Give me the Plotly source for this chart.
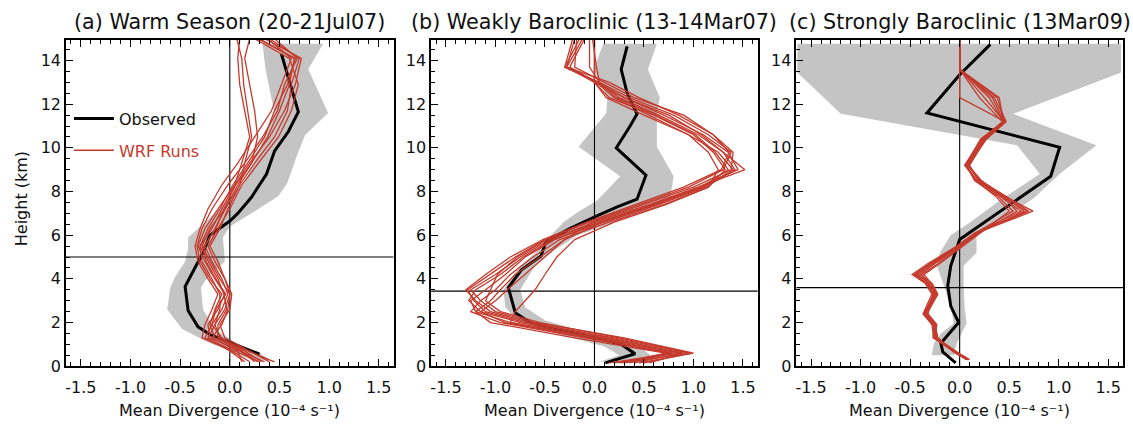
import plotly.graph_objects as go

# ---------------- data ----------------
x_tick_vals = [-1.5, -1.0, -0.5, 0.0, 0.5, 1.0, 1.5]
x_tick_text = ["-1.5", "-1.0", "-0.5", "0.0", "0.5", "1.0", "1.5"]
y_tick_vals = [0, 2, 4, 6, 8, 10, 12, 14]

panel_titles = ["(a) Warm Season (20-21Jul07)",
                "(b) Weakly Baroclinic (13-14Mar07)",
                "(c) Strongly Baroclinic (13Mar09)"]
x_title = "Mean Divergence (10\u207b\u2074 s\u207b\u00b9)"
ref_heights = [5.0, 3.44, 3.6]

# ---- panel (a) ----
obs_a_h = [14.3, 13.0, 11.65, 10.75, 9.85, 8.8, 7.75, 7.0, 6.65, 6.0, 5.2, 4.6, 3.65, 2.55, 1.8, 1.45, 1.05, 0.55]
obs_a_x = [0.52, 0.60, 0.69, 0.59, 0.45, 0.37, 0.22, 0.08, 0.0, -0.20, -0.27, -0.34, -0.45, -0.42, -0.32, -0.20, 0.02, 0.30]
band_a_h = [14.77, 13.6, 11.6, 10.6, 9.7, 8.4, 7.8, 7.0, 6.4, 5.9, 5.4, 4.8, 4.1, 3.6, 2.6, 1.7, 1.1, 0.6, 0.3]
band_a_max = [0.94, 0.79, 0.99, 0.76, 0.68, 0.58, 0.49, 0.22, 0.0, -0.07, -0.06, -0.05, -0.22, -0.29, -0.27, -0.15, 0.05, 0.30, 0.40]
band_a_min = [0.33, 0.36, 0.45, 0.35, 0.28, 0.15, 0.02, -0.15, -0.30, -0.42, -0.42, -0.45, -0.55, -0.60, -0.63, -0.48, -0.22, 0.05, 0.22]
runs_a_h = [0.2, 0.7, 1.3, 1.9, 2.6, 3.3, 4.0, 4.8, 5.5, 6.3, 7.2, 8.3, 9.3, 10.5, 11.7, 12.9, 14.1, 15.0]
runs_a = [
    [0.45, 0.18, -0.10, -0.15, -0.05, 0.00, -0.10, -0.20, -0.28, -0.20, -0.05, 0.10, 0.25, 0.45, 0.58, 0.62, 0.70, 0.40],
    [0.35, 0.10, -0.20, -0.22, -0.12, -0.05, -0.15, -0.25, -0.32, -0.25, -0.12, 0.05, 0.20, 0.40, 0.55, 0.66, 0.72, 0.35],
    [0.30, 0.05, -0.25, -0.18, -0.08, -0.02, -0.08, -0.18, -0.25, -0.15, -0.05, 0.08, 0.22, 0.38, 0.50, 0.60, 0.65, 0.30],
    [0.25, 0.12, -0.15, -0.20, -0.15, -0.08, -0.20, -0.30, -0.33, -0.28, -0.18, -0.02, 0.15, 0.33, 0.48, 0.55, 0.68, 0.45],
    [0.40, 0.20, -0.05, -0.10, 0.00, 0.02, -0.05, -0.15, -0.22, -0.12, 0.00, 0.12, 0.29, 0.49, 0.62, 0.69, 0.60, 0.25],
    [0.20, 0.02, -0.28, -0.25, -0.18, -0.12, -0.22, -0.32, -0.35, -0.30, -0.22, -0.08, 0.08, 0.25, 0.42, 0.52, 0.62, 0.38],
    [0.32, 0.15, -0.12, -0.12, -0.03, -0.06, -0.12, -0.22, -0.30, -0.22, -0.10, 0.03, 0.18, 0.35, 0.45, 0.58, 0.66, 0.28],
    [0.15, 0.00, -0.22, -0.15, -0.10, -0.10, -0.18, -0.28, -0.30, -0.18, -0.08, 0.05, 0.12, 0.20, 0.15, 0.10, 0.08, 0.10],
    [0.12, 0.08, -0.18, -0.08, -0.02, 0.00, -0.05, -0.12, -0.20, -0.10, -0.02, 0.10, 0.15, 0.22, 0.18, 0.14, 0.12, 0.07],
    [0.28, 0.10, -0.08, -0.18, -0.14, -0.04, -0.14, -0.24, -0.26, -0.14, -0.06, 0.06, 0.22, 0.28, 0.25, 0.20, 0.15, 0.20],
]

# ---- panel (b) ----
obs_b_h = [14.65, 13.6, 12.5, 11.55, 11.0, 10.0, 8.75, 7.65, 7.3, 6.9, 6.3, 5.7, 5.05, 4.4, 3.6, 2.45, 1.97, 1.5, 1.03, 0.57, 0.15]
obs_b_x = [0.33, 0.27, 0.33, 0.43, 0.36, 0.22, 0.52, 0.43, 0.23, 0.03, -0.25, -0.49, -0.54, -0.74, -0.87, -0.80, -0.64, -0.20, 0.26, 0.41, 0.11]
band_b_h = [14.77, 13.6, 12.3, 11.6, 10.05, 8.7, 7.6, 7.05, 6.6, 6.0, 5.3, 4.6, 3.5, 2.7, 2.1, 1.45, 0.9, 0.5, 0.2]
band_b_max = [0.63, 0.54, 0.66, 0.63, 0.63, 0.80, 0.76, 0.45, 0.20, -0.17, -0.41, -0.60, -0.75, -0.70, -0.50, -0.02, 0.45, 0.57, 0.50]
band_b_min = [0.09, -0.01, 0.13, 0.12, -0.16, 0.26, 0.03, -0.17, -0.31, -0.44, -0.57, -0.75, -0.92, -0.90, -0.78, -0.35, 0.10, 0.25, 0.05]
runs_b_h = [0.15, 0.6, 1.3, 2.0, 2.5, 3.0, 3.5, 4.2, 5.0, 5.8, 6.6, 7.4, 8.2, 9.0, 9.8, 10.6, 11.5, 12.3, 13.0, 13.7, 15.0]
runs_b = [
    [0.30, 0.95, 0.20, -0.70, -1.10, -1.22, -1.28, -1.05, -0.80, -0.50, -0.05, 0.45, 0.95, 1.30, 1.38, 1.15, 0.80, 0.35, 0.05, -0.30, -0.15],
    [0.45, 1.00, 0.30, -0.60, -1.00, -1.15, -1.25, -1.00, -0.75, -0.45, 0.00, 0.55, 1.05, 1.45, 1.35, 1.10, 0.70, 0.30, 0.00, -0.28, -0.20],
    [0.20, 0.85, 0.05, -0.85, -1.20, -1.25, -1.10, -0.90, -0.70, -0.40, 0.05, 0.60, 1.10, 1.40, 1.25, 0.95, 0.55, 0.20, 0.02, -0.25, -0.10],
    [0.55, 0.90, 0.10, -0.75, -1.15, -1.27, -1.20, -0.95, -0.72, -0.42, 0.10, 0.65, 1.12, 1.42, 1.30, 1.05, 0.65, 0.25, 0.05, -0.05, -0.05],
    [0.35, 0.78, -0.10, -0.95, -1.25, -1.15, -1.00, -0.85, -0.62, -0.35, 0.15, 0.70, 1.15, 1.32, 1.20, 1.00, 0.60, 0.15, 0.00, 0.00, 0.00],
    [0.25, 0.72, -0.20, -1.05, -1.20, -1.05, -0.95, -0.80, -0.55, -0.30, -0.02, 0.50, 1.00, 1.38, 1.40, 1.20, 0.90, 0.40, 0.10, -0.20, -0.18],
    [0.50, 0.98, 0.25, -0.55, -0.95, -1.10, -1.05, -0.98, -0.78, -0.48, 0.05, 0.58, 1.05, 1.52, 1.30, 1.08, 0.75, 0.30, 0.03, -0.30, -0.22],
    [0.15, 0.80, 0.00, -0.85, -0.80, -0.70, -0.60, -0.50, -0.38, -0.20, 0.20, 0.72, 1.15, 1.25, 1.15, 0.95, 0.50, 0.12, 0.00, 0.00, 0.00],
    [0.40, 0.88, 0.15, -0.65, -1.05, -1.20, -1.30, -1.10, -0.85, -0.52, -0.08, 0.40, 0.90, 1.28, 1.36, 1.20, 0.85, 0.45, 0.15, -0.28, -0.12],
    [0.28, 0.75, -0.05, -0.90, -1.15, -1.00, -0.88, -0.70, -0.50, -0.30, 0.08, 0.62, 1.08, 1.35, 1.22, 1.02, 0.62, 0.22, 0.05, 0.02, -0.02],
]

# ---- panel (c) ----
obs_c_h = [14.74, 13.35, 11.6, 10.03, 8.7, 7.2, 5.8, 4.6, 3.7, 2.75, 2.0, 1.05, 0.65, 0.15]
obs_c_x = [0.31, 0.0, -0.33, 1.01, 0.92, 0.45, 0.0, -0.09, -0.12, -0.09, -0.01, -0.19, -0.17, -0.04]
band_c_h = [14.77, 13.45, 11.56, 10.12, 8.8, 7.7, 6.6, 6.0, 5.2, 4.6, 3.7, 2.7, 1.95, 1.5, 1.05, 0.5]
band_c_max = [1.63, 1.63, 0.54, 1.38, 1.01, 0.75, 0.40, 0.17, 0.17, 0.04, 0.04, 0.05, 0.07, 0.02, -0.03, -0.06]
band_c_min = [-1.64, -1.64, -1.20, 0.58, 0.81, 0.44, 0.11, -0.09, -0.20, -0.23, -0.16, -0.09, -0.06, -0.19, -0.26, -0.28]
runs_c_h = [0.3, 0.6, 1.3, 1.9, 2.4, 3.3, 3.8, 4.2, 4.7, 5.5, 6.1, 7.1, 7.8, 8.5, 9.2, 10.4, 11.2, 12.3, 13.6, 15.0]
runs_c = [
    [0.09, -0.03, -0.25, -0.26, -0.36, -0.26, -0.33, -0.46, -0.30, -0.02, 0.17, 0.74, 0.45, 0.20, 0.08, 0.25, 0.46, 0.38, 0.0, 0.0],
    [0.08, -0.05, -0.23, -0.24, -0.34, -0.24, -0.30, -0.44, -0.28, 0.00, 0.18, 0.68, 0.42, 0.18, 0.06, 0.24, 0.44, 0.30, 0.0, 0.0],
    [0.07, -0.02, -0.26, -0.28, -0.37, -0.28, -0.35, -0.48, -0.32, -0.03, 0.15, 0.62, 0.40, 0.17, 0.05, 0.22, 0.45, 0.25, 0.0, 0.0],
    [0.09, -0.04, -0.22, -0.25, -0.33, -0.22, -0.28, -0.40, -0.25, 0.01, 0.20, 0.58, 0.43, 0.22, 0.09, 0.27, 0.47, 0.35, 0.0, 0.0],
    [0.10, -0.01, -0.24, -0.27, -0.35, -0.25, -0.32, -0.38, -0.22, 0.02, 0.16, 0.54, 0.38, 0.15, 0.07, 0.23, 0.43, 0.20, 0.0, 0.0],
    [0.08, -0.03, -0.25, -0.23, -0.32, -0.27, -0.31, -0.42, -0.26, -0.01, 0.19, 0.65, 0.44, 0.19, 0.10, 0.26, 0.45, 0.33, 0.0, 0.0],
    [0.07, -0.04, -0.27, -0.26, -0.35, -0.23, -0.29, -0.36, -0.20, 0.03, 0.21, 0.50, 0.36, 0.16, 0.06, 0.21, 0.44, 0.40, 0.0, 0.0],
    [0.09, -0.02, -0.24, -0.25, -0.36, -0.26, -0.34, -0.45, -0.29, -0.01, 0.17, 0.70, 0.46, 0.21, 0.08, 0.25, 0.46, 0.0, 0.0, 0.0],
]

# ---------------- style ----------------
W, H = 1133, 425
FONT = "DejaVu Sans, Arial, sans-serif"
GRAY = "rgb(196,196,196)"
RED = "rgb(196,58,44)"
X_RANGE = [-1.65, 1.65]
Y_RANGE = [0.0, 14.94]
px_left = [65, 430.5, 796]
px_right = [393, 757.5, 1123]
px_top, px_bottom = 41, 375

# minor tick positions (axis decoration)
x_minor = [round(-1.6 + 0.1 * k, 2) for k in range(33)]
y_minor = [0.5 * k for k in range(30)]

panels = [
    (obs_a_h, obs_a_x, band_a_h, band_a_max, band_a_min, runs_a_h, runs_a),
    (obs_b_h, obs_b_x, band_b_h, band_b_max, band_b_min, runs_b_h, runs_b),
    (obs_c_h, obs_c_x, band_c_h, band_c_max, band_c_min, runs_c_h, runs_c),
]

fig = go.Figure()
for i, (oh, ox, bh, bmax, bmin, rh, runs) in enumerate(panels):
    xa = "x" if i == 0 else f"x{i+1}"
    ya = "y" if i == 0 else f"y{i+1}"
    # spread band
    fig.add_trace(go.Scatter(
        x=bmax + bmin[::-1], y=bh + bh[::-1], fill="toself", fillcolor=GRAY,
        line=dict(width=0, color=GRAY), mode="lines", hoverinfo="skip",
        showlegend=False, xaxis=xa, yaxis=ya))
    # reference lines (zero divergence and height marker)
    fig.add_trace(go.Scatter(x=[0, 0], y=Y_RANGE, mode="lines",
                             line=dict(color="black", width=1.1),
                             showlegend=False, hoverinfo="skip", xaxis=xa, yaxis=ya))
    fig.add_trace(go.Scatter(x=X_RANGE, y=[ref_heights[i], ref_heights[i]], mode="lines",
                             line=dict(color="black", width=1.1),
                             showlegend=False, hoverinfo="skip", xaxis=xa, yaxis=ya))
    # observed
    fig.add_trace(go.Scatter(x=ox, y=oh, mode="lines", name="Observed",
                             line=dict(color="black", width=3),
                             showlegend=(i == 0), legendgroup="obs",
                             xaxis=xa, yaxis=ya))
    # WRF runs
    for k, run in enumerate(runs):
        fig.add_trace(go.Scatter(
            x=run, y=rh, mode="lines",
            name='<span style="color:rgb(196,58,44)">WRF Runs</span>',
            line=dict(color=RED, width=1.3),
            showlegend=(i == 0 and k == 0), legendgroup="wrf",
            xaxis=xa, yaxis=ya))

layout = dict(
    width=W, height=H, margin=dict(l=0, r=0, t=0, b=0),
    paper_bgcolor="white", plot_bgcolor="white",
    font=dict(family=FONT, size=16, color="#111"),
    showlegend=True,
    legend=dict(x=68 / W, y=1 - 104 / H, xanchor="left", yanchor="top",
                bgcolor="rgba(0,0,0,0)", font=dict(size=16, family=FONT),
                traceorder="grouped", tracegroupgap=8, itemwidth=40),
)
for i in range(3):
    xk = "xaxis" if i == 0 else f"xaxis{i+1}"
    yk = "yaxis" if i == 0 else f"yaxis{i+1}"
    layout[xk] = dict(
        domain=[px_left[i] / W, px_right[i] / W], range=X_RANGE,
        anchor="y" if i == 0 else f"y{i+1}",
        tickmode="array", tickvals=x_tick_vals, ticktext=x_tick_text,
        ticks="inside", ticklen=7, ticklabelstandoff=6,
        tickwidth=1.2, tickcolor="black", showline=True, linecolor="black",
        linewidth=1.5, mirror="ticks", showgrid=False, zeroline=False,
        tickfont=dict(size=16, family=FONT, color="#111"),
        minor=dict(tickmode="array", tickvals=x_minor, ticks="inside", ticklen=4,
                   tickcolor="black", tickwidth=1, showgrid=False),
    )
    layout[yk] = dict(
        domain=[1 - px_bottom / H, 1 - px_top / H], range=Y_RANGE,
        anchor="x" if i == 0 else f"x{i+1}",
        tickmode="array", tickvals=y_tick_vals, ticks="inside", ticklen=7, tickwidth=1.2,
        tickcolor="black", showline=True, linecolor="black", linewidth=1.5,
        mirror=True, showgrid=False, zeroline=False,
        tickfont=dict(size=16, family=FONT, color="#111"),
        minor=dict(tickmode="array", tickvals=y_minor, ticks="inside", ticklen=4,
                   tickcolor="black", tickwidth=1, showgrid=False),
    )

annotations = []
for i in range(3):
    cx = (px_left[i] + px_right[i]) / 2 / W
    annotations.append(dict(text=panel_titles[i], x=cx, y=1 - 23 / H, xref="paper", yref="paper",
                            xanchor="center", yanchor="middle", showarrow=False,
                            font=dict(size=20.7, family=FONT, color="#111")))
    annotations.append(dict(text=x_title, x=cx, y=0, xref="paper", yref="paper",
                            xanchor="center", yanchor="bottom", yshift=-7, showarrow=False,
                            font=dict(size=16, family=FONT, color="#111")))
annotations.append(dict(text="Height (km)", x=20 / W, y=1 - 203 / H, xref="paper", yref="paper",
                        xanchor="center", yanchor="middle", textangle=-90, showarrow=False,
                        font=dict(size=16, family=FONT, color="#111")))
layout["annotations"] = annotations

fig.update_layout(**layout)
fig.write_html("out.html")
